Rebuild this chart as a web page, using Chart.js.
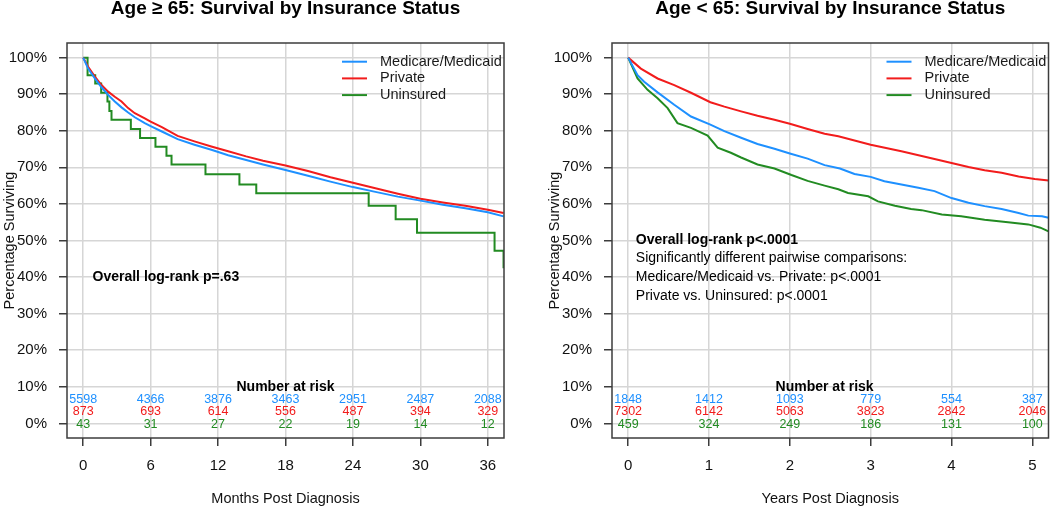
<!DOCTYPE html>
<html>
<head>
<meta charset="utf-8">
<script src="https://cdn.jsdelivr.net/npm/chart.js@4.4.0/dist/chart.umd.min.js"></script>
<style>
  html, body { margin: 0; padding: 0; background: #fff; }
  #wrap { position: relative; width: 1050px; height: 508px; overflow: hidden; }
  #left { position: absolute; left: 0; top: 0; }
  #right { position: absolute; left: 545px; top: 0; }
</style>
</head>
<body>
<div id="wrap">
  <canvas id="left" width="525" height="508"></canvas>
  <canvas id="right" width="505" height="508"></canvas>
</div>
<script>
'use strict';

// Age >= 65, months post diagnosis (% surviving)
var oldMedT  = [0, 0.44, 1.04, 1.63, 2.22, 2.81, 3.41, 4.0, 4.59, 5.48, 6.0, 7.0, 8.4, 9.9, 11.4, 12.9, 14.5, 16, 18, 20, 22, 24, 26, 28, 30, 32, 34, 36, 37.4];
var oldMedS  = [100, 97.0, 94.3, 91.9, 89.8, 88.0, 86.4, 85.0, 83.7, 82.1, 81.3, 79.8, 77.7, 76.2, 74.8, 73.3, 72.0, 70.8, 69.3, 67.7, 66.1, 64.6, 63.3, 62.0, 60.9, 59.8, 58.8, 57.7, 56.6];
var oldPrivT = [0, 0.44, 1.04, 1.63, 2.22, 2.81, 3.41, 4.0, 4.59, 5.48, 6.0, 7.0, 8.4, 9.9, 11.4, 12.9, 14.5, 16, 18, 20, 22, 24, 26, 28, 30, 32, 34, 36, 37.4];
var oldPrivS = [100, 97.5, 94.8, 92.5, 90.7, 89.3, 88.0, 86.2, 84.8, 83.4, 82.5, 81.0, 78.6, 77.1, 75.7, 74.4, 73.0, 71.8, 70.5, 69.0, 67.3, 65.8, 64.3, 62.8, 61.4, 60.4, 59.5, 58.4, 57.5];
var oldUnT   = [0, 0.39, 1.07, 1.6, 2.16, 2.33, 2.52, 4.24, 5.06, 6.43, 7.41, 7.86, 10.88, 13.9, 15.4, 25.4, 27.8, 29.7, 36.6, 37.4];
var oldUnS   = [100, 95.2, 92.9, 90.4, 88.0, 85.4, 83.0, 80.5, 78.0, 75.6, 73.2, 70.8, 68.1, 65.3, 62.9, 59.5, 55.8, 52.1, 47.2, 42.4];
var oldTicks = [0, 6, 12, 18, 24, 30, 36];
var oldRiskMed  = [5598, 4366, 3876, 3463, 2951, 2487, 2088];
var oldRiskPriv = [873, 693, 614, 556, 487, 394, 329];
var oldRiskUn   = [43, 31, 27, 22, 19, 14, 12];

// Age < 65, years post diagnosis
var yngMedT  = [0, 0.116, 0.198, 0.364, 0.57, 0.777, 1.017, 1.19, 1.397, 1.6, 1.81, 2.0, 2.22, 2.43, 2.62, 2.8, 3.0, 3.17, 3.38, 3.59, 3.79, 4.0, 4.21, 4.41, 4.62, 4.83, 4.95, 5.12, 5.2];
var yngMedS  = [100, 95.2, 93.4, 90.5, 87.1, 83.9, 81.7, 79.9, 78.1, 76.4, 75.1, 73.8, 72.4, 70.6, 69.7, 68.2, 67.4, 66.2, 65.3, 64.4, 63.5, 61.6, 60.3, 59.4, 58.6, 57.5, 56.8, 56.6, 56.2];
var yngPrivT = [0, 0.157, 0.364, 0.57, 0.777, 1.017, 1.19, 1.397, 1.6, 1.81, 2.0, 2.22, 2.43, 2.6, 3.0, 3.38, 3.79, 4.0, 4.21, 4.41, 4.62, 4.83, 5.03, 5.2];
var yngPrivS = [100, 97.0, 94.3, 92.5, 90.4, 87.8, 86.6, 85.3, 84.1, 83.0, 81.9, 80.5, 79.2, 78.5, 76.2, 74.4, 72.3, 71.2, 70.1, 69.2, 68.5, 67.5, 66.8, 66.4];
var yngUnT   = [0, 0.116, 0.24, 0.364, 0.488, 0.61, 0.777, 0.983, 1.107, 1.27, 1.397, 1.6, 1.81, 2.02, 2.22, 2.43, 2.6, 2.72, 2.97, 3.09, 3.3, 3.5, 3.63, 3.88, 4.12, 4.41, 4.7, 4.95, 5.1, 5.2];
var yngUnS   = [100, 94.3, 91.2, 88.9, 86.2, 82.1, 80.8, 78.7, 75.4, 74.0, 72.7, 70.8, 69.7, 67.9, 66.3, 65.0, 64.0, 63.0, 62.1, 60.7, 59.5, 58.6, 58.3, 57.1, 56.6, 55.7, 55.0, 54.4, 53.5, 52.5];
var yngTicks = [0, 1, 2, 3, 4, 5];
var yngRiskMed  = [1848, 1412, 1093, 779, 554, 387];
var yngRiskPriv = [7302, 6142, 5063, 3823, 2842, 2046];
var yngRiskUn   = [459, 324, 249, 186, 131, 100];

var yTicks = [0, 10, 20, 30, 40, 50, 60, 70, 80, 90, 100];
var seriesNames = ['Medicare/Medicaid', 'Private', 'Uninsured'];

var FONT = "'Liberation Sans', Arial, sans-serif";
var BLUE = '#1e90ff', RED = '#f21c1c', GREEN = '#228b22';
var GRID = '#d6d6d6', AXIS = '#3c3c3c', INK = '#111';

Chart.defaults.font.family = FONT;

function pts(t, s) {
  return t.map(function (v, i) { return { x: v, y: s[i] }; });
}

function series(label, t, s, color, step) {
  return {
    label: label, data: pts(t, s), borderColor: color, backgroundColor: color,
    borderWidth: 2, pointRadius: 0, fill: false, stepped: step, tension: 0
  };
}

// titles, frame, legend inside the plot, notes and number-at-risk table
function decor(p) {
  return {
    id: 'decor',
    afterDraw: function (chart) {
      var ctx = chart.ctx, a = chart.chartArea;
      var xs = chart.scales.x, ys = chart.scales.y;
      ctx.save();
      ctx.strokeStyle = AXIS;
      ctx.lineWidth = 1.5;
      ctx.strokeRect(a.left, a.top, a.right - a.left, a.bottom - a.top);

      ctx.fillStyle = '#000';
      ctx.font = 'bold 19px ' + FONT;
      ctx.textAlign = 'center';
      ctx.textBaseline = 'alphabetic';
      ctx.fillText(p.title, (a.left + a.right) / 2, 14);

      // legend
      ctx.font = '14.5px ' + FONT;
      ctx.textAlign = 'left';
      ctx.textBaseline = 'middle';
      chart.data.datasets.forEach(function (ds, i) {
        var y = a.top + 18.7 + i * 16.7;
        ctx.strokeStyle = ds.borderColor;
        ctx.lineWidth = 2;
        ctx.beginPath();
        ctx.moveTo(a.right - 162, y);
        ctx.lineTo(a.right - 137, y);
        ctx.stroke();
        ctx.fillStyle = '#1a1a1a';
        ctx.fillText(ds.label, a.right - 124, y);
      });

      // log-rank notes
      p.notes.forEach(function (n, i) {
        ctx.font = (i === 0 ? 'bold ' : '') + '14px ' + FONT;
        ctx.fillStyle = '#000';
        ctx.fillText(n.text, xs.getPixelForValue(p.noteX), ys.getPixelForValue(n.y));
      });

      // number at risk
      ctx.textAlign = 'center';
      ctx.font = 'bold 14px ' + FONT;
      ctx.fillStyle = '#000';
      ctx.fillText('Number at risk', xs.getPixelForValue(p.riskTitleX), ys.getPixelForValue(10));
      ctx.font = '12.5px ' + FONT;
      var rows = [[p.riskMed, BLUE, 6.6], [p.riskPriv, RED, 3.1], [p.riskUn, GREEN, -0.2]];
      rows.forEach(function (r) {
        ctx.fillStyle = r[1];
        r[0].forEach(function (n, i) {
          ctx.fillText(String(n), xs.getPixelForValue(p.ticks[i]), ys.getPixelForValue(r[2]));
        });
      });
      ctx.restore();
    }
  };
}

function buildPanel(id, p) {
  return new Chart(document.getElementById(id), {
    type: 'line',
    data: {
      datasets: [
        series(seriesNames[0], p.medT, p.medS, BLUE, false),
        series(seriesNames[1], p.privT, p.privS, RED, false),
        series(seriesNames[2], p.unT, p.unS, GREEN, p.unStep)
      ]
    },
    options: {
      responsive: false,
      animation: false,
      layout: { padding: { top: 43, right: p.padRight, left: 0, bottom: 0 } },
      plugins: { legend: { display: false }, tooltip: { enabled: false } },
      scales: {
        x: {
          type: 'linear', min: p.xMin, max: p.xMax,
          afterBuildTicks: function (s) { s.ticks = p.ticks.map(function (v) { return { value: v }; }); },
          afterFit: function (s) { s.height = 70; s.paddingLeft = 0; s.paddingRight = 0; },
          ticks: { autoSkip: false, maxRotation: 0, padding: 11, color: INK, font: { size: 15 } },
          grid: { color: GRID, lineWidth: 1.5, tickColor: AXIS, tickLength: 8, tickWidth: 1.5 },
          border: { display: false },
          title: { display: true, text: p.xTitle, color: INK, font: { size: 14.5 }, padding: { top: 0, bottom: 0 } }
        },
        y: {
          type: 'linear', min: -4, max: 104,
          afterBuildTicks: function (s) { s.ticks = yTicks.map(function (v) { return { value: v }; }); },
          afterFit: function (s) { s.width = 67; s.paddingTop = 0; s.paddingBottom = 0; },
          ticks: { padding: 12, color: INK, font: { size: 15 }, callback: function (v) { return v + '%'; } },
          grid: { color: GRID, lineWidth: 1.5, tickColor: AXIS, tickLength: 8, tickWidth: 1.5 },
          border: { display: false },
          title: { display: true, text: 'Percentage Surviving', color: INK, font: { size: 14.5 }, padding: { top: 1, bottom: 0 } }
        }
      }
    },
    plugins: [decor(p)]
  });
}

buildPanel('left', {
  title: 'Age \u2265 65: Survival by Insurance Status',
  xTitle: 'Months Post Diagnosis',
  xMin: -1.44, xMax: 37.44, padRight: 21,
  ticks: oldTicks,
  medT: oldMedT, medS: oldMedS, privT: oldPrivT, privS: oldPrivS, unT: oldUnT, unS: oldUnS, unStep: true,
  riskMed: oldRiskMed, riskPriv: oldRiskPriv, riskUn: oldRiskUn, riskTitleX: 18,
  noteX: 0.83,
  notes: [{ text: 'Overall log-rank p=.63', y: 40 }]
});

buildPanel('right', {
  title: 'Age < 65: Survival by Insurance Status',
  xTitle: 'Years Post Diagnosis',
  xMin: -0.2, xMax: 5.2, padRight: 1.5,
  ticks: yngTicks,
  medT: yngMedT, medS: yngMedS, privT: yngPrivT, privS: yngPrivS, unT: yngUnT, unS: yngUnS, unStep: false,
  riskMed: yngRiskMed, riskPriv: yngRiskPriv, riskUn: yngRiskUn, riskTitleX: 2.43,
  noteX: 0.095,
  notes: [
    { text: 'Overall log-rank p<.0001', y: 50 },
    { text: 'Significantly different pairwise comparisons:', y: 45.1 },
    { text: 'Medicare/Medicaid vs. Private: p<.0001', y: 40 },
    { text: 'Private vs. Uninsured: p<.0001', y: 34.7 }
  ]
});
</script>
</body>
</html>
